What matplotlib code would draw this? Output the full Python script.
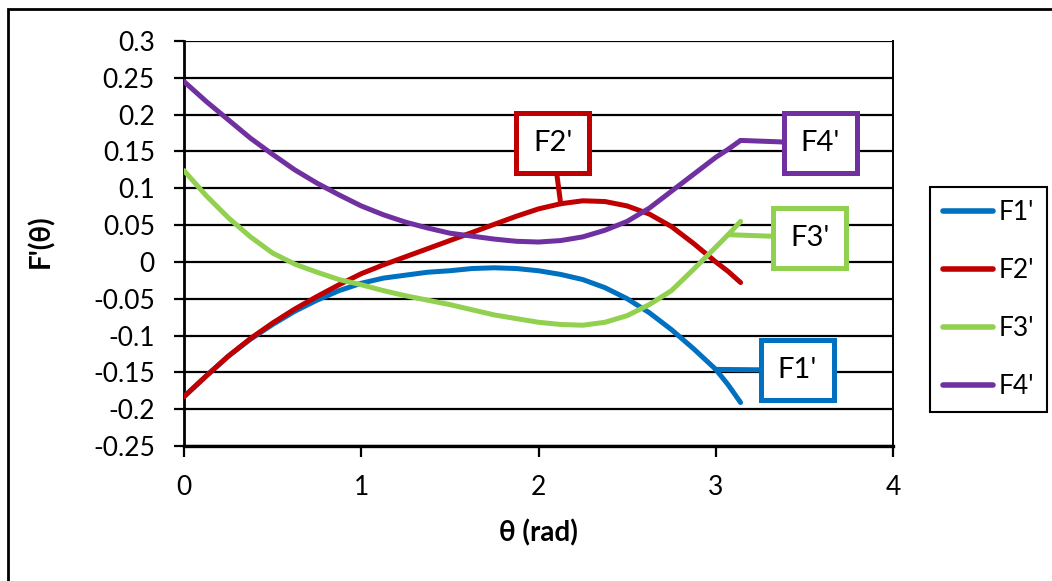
import matplotlib
matplotlib.use('Agg')
import matplotlib.pyplot as plt
from matplotlib.patches import Rectangle
from matplotlib.ticker import FuncFormatter

plt.rcParams['font.family'] = ['Lato', 'DejaVu Sans']

# values
theta = [0, 0.125, 0.25, 0.375, 0.5, 0.625, 0.75, 0.875, 1.0, 1.125, 1.25, 1.375, 1.5,
         1.625, 1.75, 1.875, 2.0, 2.125, 2.25, 2.375, 2.5, 2.625, 2.75, 2.875, 3.0, 3.07, 3.14]
f1 = [-0.183, -0.155, -0.128, -0.105, -0.085, -0.067, -0.052, -0.039, -0.029, -0.022, -0.018,
      -0.014, -0.012, -0.009, -0.008, -0.009, -0.012, -0.017, -0.024, -0.035, -0.050, -0.069,
      -0.092, -0.118, -0.146, -0.167, -0.191]
f2 = [-0.183, -0.155, -0.128, -0.104, -0.083, -0.064, -0.047, -0.031, -0.016, -0.004, 0.007,
      0.018, 0.029, 0.040, 0.051, 0.062, 0.072, 0.079, 0.083, 0.082, 0.076, 0.065, 0.048,
      0.025, 0.000, -0.013, -0.028]
f3 = [0.124, 0.090, 0.060, 0.034, 0.012, -0.003, -0.014, -0.024, -0.031, -0.039, -0.046,
      -0.052, -0.058, -0.065, -0.072, -0.077, -0.082, -0.085, -0.086, -0.082, -0.073, -0.058,
      -0.039, -0.010, 0.020, 0.037, 0.055]
f4 = [0.245, 0.218, 0.193, 0.168, 0.146, 0.125, 0.107, 0.091, 0.076, 0.064, 0.054, 0.046,
      0.039, 0.035, 0.031, 0.028, 0.027, 0.029, 0.034, 0.043, 0.055, 0.073, 0.096, 0.119,
      0.142, 0.153, 0.165]

names = ["F1'", "F2'", "F3'", "F4'"]
colors = ['#0070C0', '#C00000', '#92D050', '#7030A0']
series = [f1, f2, f3, f4]

yticks = [-0.25, -0.2, -0.15, -0.1, -0.05, 0, 0.05, 0.1, 0.15, 0.2, 0.25, 0.3]
xticks = [0, 1, 2, 3, 4]

fig = plt.figure(figsize=(10.52, 5.81), dpi=100)
ax = fig.add_axes([0.1749, 0.2324, 0.6740, 0.6970])

for s, c, n in zip(series, colors, names):
    ax.plot(theta, s, color=c, lw=3.6, label=n, solid_capstyle='round',
            solid_joinstyle='round', zorder=3)

ax.set_xlim(0, 4)
ax.set_ylim(-0.25, 0.3)
ax.set_yticks(yticks)
ax.set_xticks(xticks)
ax.yaxis.set_major_formatter(FuncFormatter(lambda v, p: ('%g' % round(v, 2))))
ax.grid(axis='y', color='black', lw=1.6, zorder=1)
ax.set_axisbelow(True)

for side in ['left', 'bottom', 'right', 'top']:
    ax.spines[side].set_color('black')
ax.spines['left'].set_linewidth(2)
ax.spines['bottom'].set_linewidth(2.4)
ax.spines['right'].set_linewidth(1.4)
ax.spines['top'].set_visible(False)

ax.tick_params(axis='y', direction='out', length=7, width=1.6, labelsize=19, pad=14)
ax.tick_params(axis='x', direction='out', length=8, width=1.6, labelsize=19, pad=13)

ax.set_xlabel('θ (rad)', fontsize=20, fontweight='bold')
ax.set_ylabel("F'(θ)", fontsize=20, fontweight='bold')
ax.xaxis.set_label_coords(0.5, -0.18)
ax.yaxis.set_label_coords(-0.183, 0.505)

# callout labels
def callout(text, idx, s, c, pos):
    ax.annotate(text, xy=(theta[idx], s[idx]), xytext=pos, textcoords='data',
                fontsize=21, ha='center', va='center', zorder=5,
                bbox=dict(boxstyle='square,pad=0.58', fc='white', ec=c, lw=3.6),
                arrowprops=dict(arrowstyle='-', color=c, lw=3.6,
                                shrinkA=0, shrinkB=0))

callout("F2'", 17, f2, colors[1], (2.08, 0.162))
callout("F4'", 26, f4, colors[3], (3.59, 0.161))
callout("F3'", 25, f3, colors[2], (3.53, 0.033))
callout("F1'", 24, f1, colors[0], (3.46, -0.147))

leg = fig.legend(loc='upper left', bbox_to_anchor=(0.884, 0.678), fontsize=19,
                 frameon=True, fancybox=False, edgecolor='black', framealpha=1,
                 handlelength=1.9, handletextpad=0.2, labelspacing=1.25,
                 borderpad=0.5, borderaxespad=0)
leg.get_frame().set_linewidth(1.5)
for h in leg.get_lines():
    h.set_linewidth(4)

# outer chart frame (only top and left edges fall inside the picture)
fig.patches.append(Rectangle((8 / 1052, -0.2), 1.5, 1.2 - 9 / 581,
                             transform=fig.transFigure, fill=False,
                             ec='black', lw=2))

fig.savefig('out.png', dpi=100)
